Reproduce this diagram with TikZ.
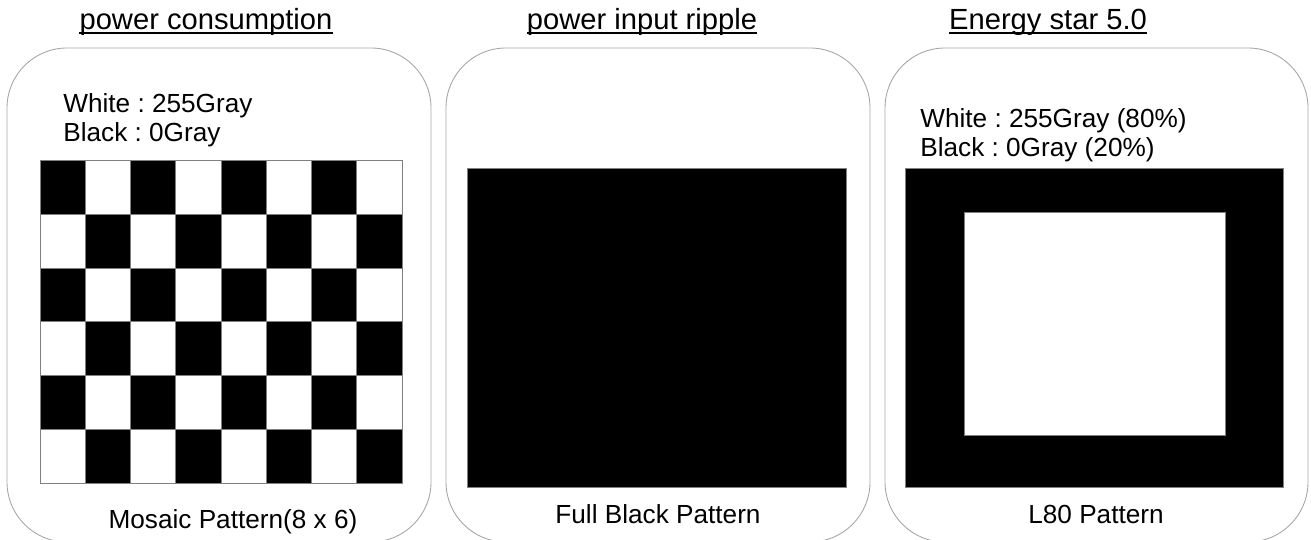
\documentclass[tikz,border=0pt]{standalone}
\usepackage{fontspec}
\setmainfont{Liberation Sans}
\frenchspacing

\begin{document}
\begin{tikzpicture}[x=0.02cm, y=-0.02cm]
	\tikzstyle{frame} = [draw=gray!70, line width=0.5pt, rounded corners=1.2cm]
	\tikzstyle{title} = [anchor=base, inner sep=0pt, font=\fontsize{16.6}{20}\selectfont]
	\tikzstyle{caption} = [anchor=base, inner sep=0pt, font=\fontsize{14.9}{18}\selectfont]
	\tikzstyle{info} = [anchor=base west, inner sep=0pt, font=\fontsize{14.9}{18}\selectfont]
	\tikzstyle{cell} = [draw=gray, line width=0.5pt]
	\useasboundingbox (0,0) rectangle (1311,540);
	\clip (0,0) rectangle (1311,540);
	% titles
	\node[title] (t1) at (206,29.5) {power consumption};
	\node[title] (t2) at (642,29.5) {power input ripple};
	\node[title] (t3) at (1048,29.5) {Energy star 5.0};
	\foreach \t in {t1,t2,t3}
		\draw[line width=1.1pt] ([yshift=-1.9pt]\t.base west) -- ([yshift=-1.9pt]\t.base east);
	% frames
	\draw[frame] (7,48) rectangle (431,542);
	\draw[frame] (446,48) rectangle (870,542);
	\draw[frame] (885,48) rectangle (1308,542);
	% mosaic
	\node[info] (w1) at (63,113) {White : 255Gray};
	\node[info] (b1) at (63,142) {Black : 0Gray};
	\foreach \col in {0,...,7}
		\foreach \row in {0,...,5} {
			\pgfmathtruncatemacro{\parity}{mod(\col+\row,2)}
			\ifnum\parity=0 \def\cellfill{black}\else \def\cellfill{white}\fi
			\path[cell, fill=\cellfill] (40+45.25*\col,160.5+53.75*\row) rectangle ++(45.25,53.75);
		}
	\node[caption] (c1) at (233,528) {Mosaic Pattern(8 x 6)};
	% full black
	\path[cell, fill=black] (467,168) rectangle (846,487);
	\node[caption] (c2) at (658,523) {Full Black Pattern};
	% L80
	\node[info] (w3) at (920,128) {White : 255Gray (80\%)};
	\node[info] (b3) at (920,157) {Black : 0Gray (20\%)};
	\path[cell, fill=black] (905,168) rectangle (1283,487);
	\path[cell, fill=white] (964,212) rectangle (1225,435);
	\node[caption] (c3) at (1096,523) {L80 Pattern};
\end{tikzpicture}
\end{document}
